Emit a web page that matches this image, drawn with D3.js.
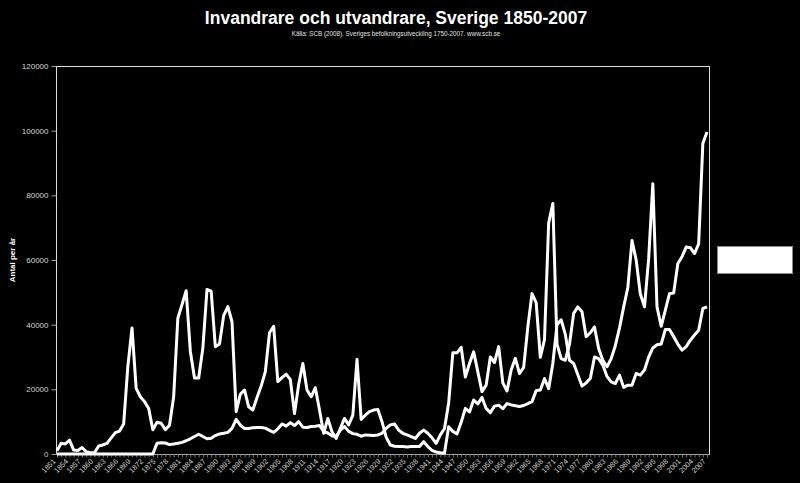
<!DOCTYPE html>
<html>
<head>
<meta charset="utf-8">
<script src="https://cdn.jsdelivr.net/npm/d3@7/dist/d3.min.js"></script>
<style>
	body { margin: 0; background: #000; }
	svg { display: block; }
	.axis text { font-family: "Liberation Sans", Arial, sans-serif; fill: #d4d4d4; }
</style>
</head>
<body>
<div id="svg-div"></div>
<script>
// ar 1851 - 2007
var years = d3.range(1851, 2008);

// Invandrare (immigration), SCB data starts 1875
var invandrare = [
	0, 0, 0, 0, 0, 0, 0, 0, 0, 0,
	0, 0, 0, 0, 0, 0, 0, 0, 0, 0,
	0, 0, 0, 0, 3300, 3500, 3400, 2900, 3100, 3300,
	3600, 4100, 4700, 5400, 6100, 5400, 4700, 4900, 5700, 6200,
	6400, 6700, 7900, 10700, 8900, 7900, 7900, 8100, 8200, 8200,
	8000, 7300, 6700, 7800, 9300, 8600, 9700, 8800, 10000, 8300,
	8200, 8500, 8600, 8800, 7000, 6500, 5600, 5500, 7400, 8500,
	7000, 6300, 6100, 5500, 5900, 5800, 5700, 5900, 6400, 7900,
	9000, 9300, 7400, 6400, 5900, 5400, 4800, 6400, 7400, 6400,
	5000, 3300, 5900, 7900, 15800, 31300, 31300, 33000, 23800, 28000,
	31600, 25400, 19300, 21300, 30000, 28300, 33200, 22000, 19500, 26000,
	29600, 24900, 26800, 39300, 49600, 46800, 29900, 35400, 71500, 77500,
	34000, 29500, 29000, 34000, 43500, 45500, 44000, 36300, 37500, 39300,
	32600, 29000, 27000, 29500, 33500, 39000, 45500, 51500, 66000, 60000,
	49500, 45500, 60500, 83600, 45500, 39500, 44500, 49600, 49800, 58900,
	61000, 64000, 63800, 62000, 65000, 96000, 99600
];

// Utvandrare (emigration)
var utvandrare = [
	1000, 3300, 3100, 4300, 1200, 1100, 2000, 700, 400, 400,
	2500, 2800, 3300, 5000, 6600, 7100, 9300, 27000, 39000, 20300,
	17700, 16200, 14100, 7500, 9800, 9500, 7500, 8900, 17700, 42000,
	46200, 50500, 31800, 23500, 23500, 32700, 50900, 50400, 33200, 34000,
	42800, 45600, 40900, 13100, 18500, 19800, 14600, 13600, 17500, 21000,
	25500, 37500, 39500, 22400, 23600, 24700, 23000, 12500, 21500, 28000,
	19800, 17700, 20500, 13600, 6400, 11000, 6900, 4800, 7900, 11000,
	9000, 12000, 29300, 10700, 12000, 13100, 13600, 13800, 10000, 5200,
	2800, 2400, 2300, 2300, 2200, 2300, 2300, 2300, 3800, 2300,
	1100, 600, 400, 300, 8400, 7000, 6200, 9800, 14100, 13000,
	16700, 15500, 17500, 14100, 12800, 14800, 15100, 14000, 15600, 15200,
	14900, 14700, 15000, 15600, 16200, 19600, 19800, 23300, 20200, 28000,
	40000, 41500, 37000, 29000, 28000, 24500, 21000, 22000, 23400, 30000,
	29500, 27500, 24000, 22300, 21800, 24400, 20600, 21300, 21300, 24900,
	24400, 26000, 30000, 32800, 33800, 34000, 38500, 38500, 36300, 34000,
	32100, 33200, 35200, 36800, 38300, 45000, 45500
];

var yTicks = [0, 20000, 40000, 60000, 80000, 100000, 120000];
var xLabelYears = years.filter(function(y) { return (y - 1851) % 3 === 0; });

var titleText = "Invandrare och utvandrare, Sverige 1850-2007";
var subtitleText = "Källa: SCB (2008). Sveriges befolkningsutveckling 1750-2007. www.scb.se";
var yTitleText = "Antal per år";

var chartProperties = {
	outerWidth: 800,
	outerHeight: 483,
	plot: { left: 56, top: 66, right: 709, bottom: 454 }
};

var svg = d3.select("#svg-div")
	.append("svg")
	.attr("width", chartProperties.outerWidth)
	.attr("height", chartProperties.outerHeight)
	.style("background", "#000");

var p = chartProperties.plot;

// Scale
var xScale = d3.scalePoint()
	.domain(years)
	.range([p.left + 1, p.right - 2]);

var yScale = d3.scaleLinear()
	.domain([0, 120000])
	.range([p.bottom, p.top]);

// Title
svg.append("text")
	.attr("x", 396)
	.attr("y", 24)
	.attr("text-anchor", "middle")
	.style("font-family", "'Liberation Sans', Arial, sans-serif")
	.style("font-weight", "bold")
	.style("font-size", "17.5px")
	.style("fill", "#fff")
	.text(titleText);

svg.append("text")
	.attr("x", 396)
	.attr("y", 36)
	.attr("text-anchor", "middle")
	.style("font-family", "'Liberation Sans', Arial, sans-serif")
	.style("font-size", "6.3px")
	.style("fill", "#e0e0e0")
	.text(subtitleText);

// Plot area border
svg.append("rect")
	.attr("x", p.left + 0.5)
	.attr("y", p.top + 0.5)
	.attr("width", p.right - p.left)
	.attr("height", p.bottom - p.top)
	.style("fill", "none")
	.style("stroke", "#dcdcdc")
	.style("stroke-width", 1);

// Y axis
var yAxis = d3.axisLeft()
	.scale(yScale)
	.tickValues(yTicks)
	.tickFormat(d3.format("d"))
	.tickSize(5)
	.tickPadding(3);

var yAxisG = svg.append("g")
	.attr("class", "axis")
	.attr("transform", "translate(" + (p.left + 0.5) + ",0)")
	.call(yAxis);
yAxisG.select(".domain").remove();
yAxisG.selectAll("line").style("stroke", "#a0a0a0");
yAxisG.selectAll("text").style("font-size", "8px");

// X axis (every year gets a tick, every third year a label)
var xAxis = d3.axisBottom()
	.scale(xScale)
	.tickSize(3)
	.tickFormat("");

var xAxisG = svg.append("g")
	.attr("class", "axis")
	.attr("transform", "translate(0," + (p.bottom + 0.5) + ")")
	.call(xAxis);
xAxisG.select(".domain")
	.attr("d", "M" + p.left + ",0H" + (p.right + 1))
	.style("stroke", "#a8a8a8");
xAxisG.selectAll("line").style("stroke", "#707070");

svg.append("g")
	.attr("class", "axis")
	.selectAll("text")
	.data(xLabelYears)
	.enter()
	.append("text")
	.attr("transform", function(d) {
		return "translate(" + (xScale(d) - 1) + "," + (p.bottom + 8) + ") rotate(-45)";
	})
	.attr("text-anchor", "end")
	.style("font-size", "7.3px")
	.text(function(d) { return d; });

// Y title
svg.append("text")
	.attr("transform", "translate(15,260) rotate(-90)")
	.attr("text-anchor", "middle")
	.style("font-family", "'Liberation Sans', Arial, sans-serif")
	.style("font-weight", "bold")
	.style("font-size", "8px")
	.style("fill", "#fff")
	.text(yTitleText);

// Lines
var line = d3.line()
	.x(function(d, i) { return xScale(years[i]); })
	.y(function(d) { return yScale(d); });

[utvandrare, invandrare].forEach(function(series) {
	svg.append("path")
		.datum(series)
		.attr("d", line)
		.style("fill", "none")
		.style("stroke", "#fff")
		.style("stroke-width", 3)
		.style("stroke-linejoin", "round");
});

// Legend box (white)
svg.append("rect")
	.attr("x", 717.5)
	.attr("y", 246.5)
	.attr("width", 75)
	.attr("height", 27)
	.style("fill", "#fff")
	.style("stroke", "#888")
	.style("stroke-width", 1);
</script>
</body>
</html>
